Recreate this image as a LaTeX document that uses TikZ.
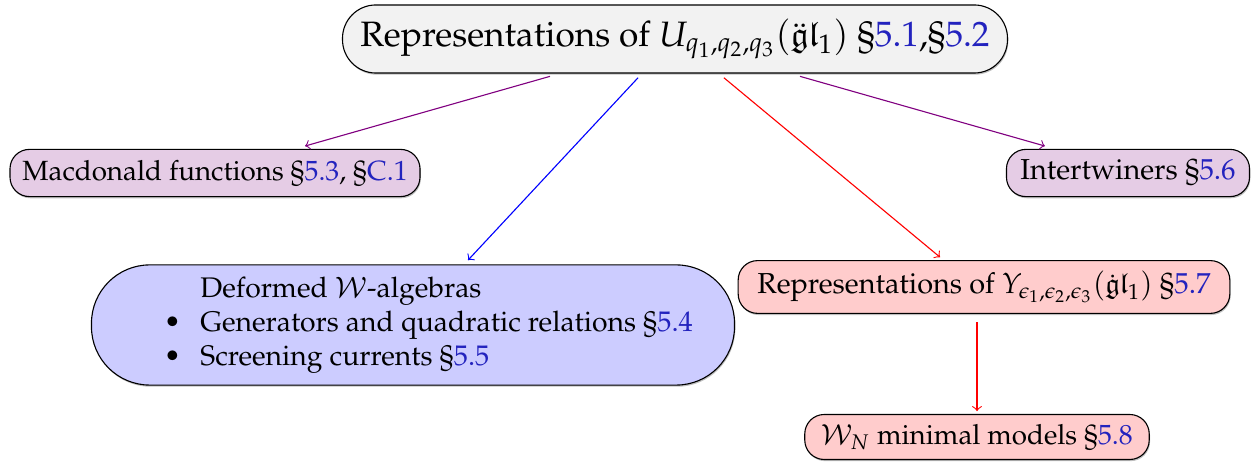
\documentclass[tikz,border=0pt]{standalone}
\usepackage[T1]{fontenc}
\usepackage{amsmath,amssymb}
\usepackage{mathpazo}
\usepackage{tikz}
\usetikzlibrary{shadows}
\definecolor{linkblue}{RGB}{35,35,190}
\newcommand{\secref}[1]{\S\textcolor{linkblue}{#1}}

\begin{document}
\begin{tikzpicture}[x=0.36pt, y=-0.36pt, thin,
    topic/.style={draw, rounded corners=7pt, inner xsep=4pt,
      drop shadow={shadow xshift=0.3pt, shadow yshift=-0.6pt, opacity=0.5}}]
    \useasboundingbox (0,0) rectangle (1259,466);
    % Main node
    \node[topic, fill=gray!10, minimum height=24.5pt, minimum width=239.4pt, rounded corners=12pt,
        font=\fontsize{12.7}{15}\selectfont] (rep) at (675,39)
        {Representations of $U_{q_1,q_2,q_3}(\ddot{\mathfrak{g}}\mathfrak{l}_1)$ \secref{5.1},\secref{5.2}};
    % Second row
    \node[topic, fill=violet!20, minimum height=17pt, minimum width=147.6pt] (mac) at (215,173)
        {Macdonald functions \secref{5.3}, \secref{C.1}};
    \node[topic, fill=violet!20, minimum height=17pt, minimum width=87.5pt,
        font=\fontsize{10.4}{12.5}\selectfont] (inter) at (1128,173)
        {Intertwiners \secref{5.6}};
    % Third row
    \node[topic, fill=blue!20, minimum height=42pt, minimum width=231.5pt, rounded corners=21pt, inner xsep=13pt,
        font=\fontsize{10.2}{12.2}\selectfont] (walg) at (413,325)
        {\begin{tabular}{@{\hspace{11pt}}c@{\hspace{7pt}}l@{}}
          & Deformed $\mathcal{W}$-algebras\\
          \textbullet & Generators and quadratic relations \secref{5.4}\\
          \textbullet & Screening currents \secref{5.5}
        \end{tabular}};
    \node[topic, fill=red!20, minimum height=19pt, minimum width=177pt,
        font=\fontsize{10.4}{12.5}\selectfont] (yang) at (984,287)
        {Representations of $Y_{\epsilon_1,\epsilon_2,\epsilon_3}(\dot{\mathfrak{g}}\mathfrak{l}_1)$ \secref{5.7}};
    \node[topic, fill=red!20, minimum height=16.2pt, minimum width=124pt] (wmin) at (977,437)
        {$\mathcal{W}_N$ minimal models \secref{5.8}};
    % Arrows
    \draw[->, violet] ([xshift=-45pt, yshift=-1pt]rep.south) -- ([xshift=32.4pt, yshift=1pt]mac.north);
    \draw[->, blue] ([xshift=-13.3pt, yshift=-1.5pt]rep.south) -- ([xshift=19.8pt, yshift=1.5pt]walg.north);
    \draw[->, red] ([xshift=17.6pt, yshift=-1.5pt]rep.south) -- ([xshift=-15.8pt, yshift=1pt]yang.north);
    \draw[->, violet] ([xshift=45pt, yshift=-1pt]rep.south) -- ([xshift=-29.9pt, yshift=1pt]inter.north);
    \draw[->, red, shorten <=3pt, shorten >=1pt] (yang.south -| wmin.north) -- (wmin.north);
\end{tikzpicture}
\end{document}
